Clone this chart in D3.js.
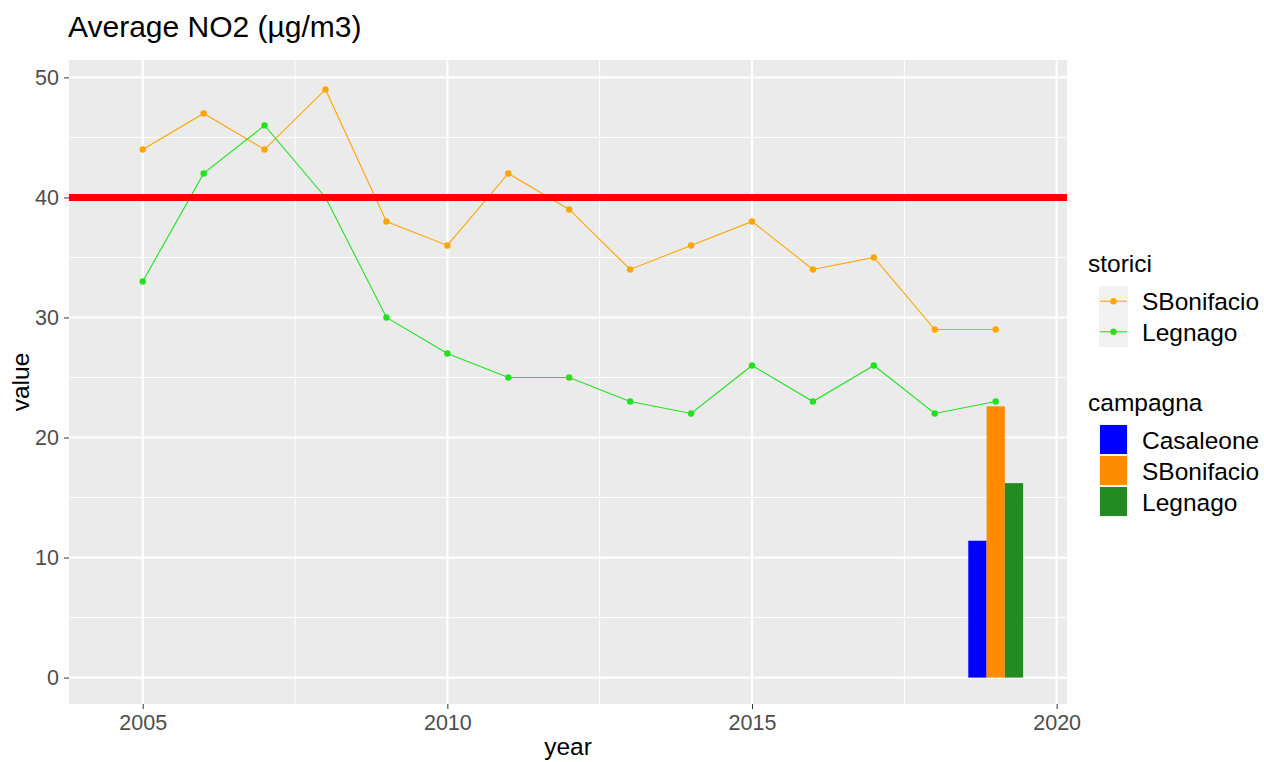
<!DOCTYPE html>
<html>
<head>
<meta charset="utf-8">
<script src="https://cdn.jsdelivr.net/npm/d3@7"></script>
<style>
  body { margin: 0; background: #fff; }
  text { font-family: "Liberation Sans", Arial, sans-serif; }
</style>
</head>
<body>
<div id="chart"></div>
<script>
// data
var years = [2005, 2006, 2007, 2008, 2009, 2010, 2011, 2012, 2013, 2014, 2015, 2016, 2017, 2018, 2019];
var sBonifacio = [44, 47, 44, 49, 38, 36, 42, 39, 34, 36, 38, 34, 35, 29, 29];
var legnago = [33, 42, 46, 40, 30, 27, 25, 25, 23, 22, 26, 23, 26, 22, 23];
var storiciNames = ["SBonifacio", "Legnago"];
var storiciColors = ["#FFA500", "#1FE31F"];

var campagnaYear = 2019;
var campagnaNames = ["Casaleone", "SBonifacio", "Legnago"];
var campagnaValues = [11.4, 22.6, 16.2];
var campagnaColors = ["#0000FF", "#FF8C00", "#228B22"];

var limitValue = 40;
var xTicks = [2005, 2010, 2015, 2020];
var xMinor = [2007.5, 2012.5, 2017.5];
var yTicks = [0, 10, 20, 30, 40, 50];
var yMinor = [5, 15, 25, 35, 45];

var W = 1264, H = 762;
var panel = {left: 69, top: 60, right: 1067, bottom: 704};

var svg = d3.select("#chart").append("svg")
  .attr("width", W).attr("height", H);

var x = d3.scaleLinear().domain([2003.79, 2020.17]).range([panel.left, panel.right]);
var y = d3.scaleLinear().domain([-2.2, 51.45]).range([panel.bottom, panel.top]);

// panel background
svg.append("rect")
  .attr("x", panel.left).attr("y", panel.top)
  .attr("width", panel.right - panel.left).attr("height", panel.bottom - panel.top)
  .attr("fill", "#EBEBEB");

var grid = svg.append("g");
grid.selectAll(".ymin").data(yMinor).enter().append("line")
  .attr("x1", panel.left).attr("x2", panel.right)
  .attr("y1", d => y(d)).attr("y2", d => y(d))
  .attr("stroke", "#fff").attr("stroke-width", 1);
grid.selectAll(".xmin").data(xMinor).enter().append("line")
  .attr("y1", panel.top).attr("y2", panel.bottom)
  .attr("x1", d => x(d)).attr("x2", d => x(d))
  .attr("stroke", "#fff").attr("stroke-width", 1);
grid.selectAll(".ymaj").data(yTicks).enter().append("line")
  .attr("x1", panel.left).attr("x2", panel.right)
  .attr("y1", d => y(d)).attr("y2", d => y(d))
  .attr("stroke", "#fff").attr("stroke-width", 2.2);
grid.selectAll(".xmaj").data(xTicks).enter().append("line")
  .attr("y1", panel.top).attr("y2", panel.bottom)
  .attr("x1", d => x(d)).attr("x2", d => x(d))
  .attr("stroke", "#fff").attr("stroke-width", 2.2);

// dodged bars for the campaign
var dodge = d3.scaleBand().domain(campagnaNames)
  .range([x(campagnaYear - 0.45), x(campagnaYear + 0.45)]);
svg.append("g").selectAll("rect")
  .data(campagnaNames).enter().append("rect")
  .attr("x", d => dodge(d))
  .attr("width", dodge.bandwidth())
  .attr("y", (d, i) => y(campagnaValues[i]))
  .attr("height", (d, i) => y(0) - y(campagnaValues[i]))
  .attr("fill", (d, i) => campagnaColors[i]);

// historical series
var series = [sBonifacio, legnago];
var line = d3.line().x((d, i) => x(years[i])).y(d => y(d));
series.forEach(function(vals, s) {
  svg.append("path")
    .datum(vals)
    .attr("d", line)
    .attr("fill", "none")
    .attr("stroke", storiciColors[s])
    .attr("stroke-width", 1.1);
  svg.append("g").selectAll("circle")
    .data(vals).enter().append("circle")
    .attr("cx", (d, i) => x(years[i]))
    .attr("cy", d => y(d))
    .attr("r", 3.2)
    .attr("fill", storiciColors[s]);
});

// limit line
svg.append("line")
  .attr("x1", panel.left).attr("x2", panel.right)
  .attr("y1", y(limitValue)).attr("y2", y(limitValue))
  .attr("stroke", "#FF0000").attr("stroke-width", 7);

// axes
var xAxis = svg.append("g")
  .attr("transform", "translate(0," + panel.bottom + ")")
  .call(d3.axisBottom(x).tickValues(xTicks).tickFormat(d3.format("d")).tickSize(5).tickPadding(6));
var yAxis = svg.append("g")
  .attr("transform", "translate(" + panel.left + ",0)")
  .call(d3.axisLeft(y).tickValues(yTicks).tickSize(5).tickPadding(5));
[xAxis, yAxis].forEach(function(a) {
  a.select(".domain").remove();
  a.selectAll(".tick line").attr("stroke", "#333");
  a.selectAll(".tick text")
    .attr("fill", "#4D4D4D")
    .style("font-size", "21.5px")
    .style("font-family", "'Liberation Sans', Arial, sans-serif");
});

// titles
svg.append("text")
  .attr("x", 68).attr("y", 37)
  .style("font-size", "30px")
  .attr("fill", "#000")
  .text("Average NO2 (\u00b5g/m3)");

svg.append("text")
  .attr("x", (panel.left + panel.right) / 2).attr("y", 755)
  .attr("text-anchor", "middle")
  .style("font-size", "24.5px")
  .text("year");

svg.append("text")
  .attr("transform", "translate(29," + ((panel.top + panel.bottom) / 2) + ") rotate(-90)")
  .attr("text-anchor", "middle")
  .style("font-size", "24.5px")
  .text("value");

// legends
var lx = 1099, keyW = 29, keyH = 30.5;

var leg1 = svg.append("g");
leg1.append("text").attr("x", lx - 11).attr("y", 272)
  .style("font-size", "24.5px").text("storici");
var l1 = leg1.selectAll("g").data(storiciNames).enter().append("g")
  .attr("transform", (d, i) => "translate(" + lx + "," + (286 + i * keyH) + ")");
l1.append("rect").attr("width", keyW).attr("height", keyH).attr("fill", "#F2F2F2");
l1.append("line").attr("x1", 1).attr("x2", keyW - 1)
  .attr("y1", keyH / 2).attr("y2", keyH / 2)
  .attr("stroke", (d, i) => storiciColors[i]).attr("stroke-width", 1.1);
l1.append("circle").attr("cx", keyW / 2).attr("cy", keyH / 2).attr("r", 3.2)
  .attr("fill", (d, i) => storiciColors[i]);
l1.append("text").attr("x", keyW + 14).attr("y", keyH / 2 + 9)
  .style("font-size", "24.5px").text(d => d);

var leg2 = svg.append("g");
leg2.append("text").attr("x", lx - 11).attr("y", 411)
  .style("font-size", "24.5px").text("campagna");
var l2 = leg2.selectAll("g").data(campagnaNames).enter().append("g")
  .attr("transform", (d, i) => "translate(" + lx + "," + (424 + i * 31) + ")");
l2.append("rect").attr("width", keyW).attr("height", 31).attr("fill", "#F2F2F2");
l2.append("rect").attr("x", 1).attr("y", 1).attr("width", keyW - 2).attr("height", 29)
  .attr("fill", (d, i) => campagnaColors[i]);
l2.append("text").attr("x", keyW + 14).attr("y", 15.5 + 9)
  .style("font-size", "24.5px").text(d => d);
</script>
</body>
</html>
